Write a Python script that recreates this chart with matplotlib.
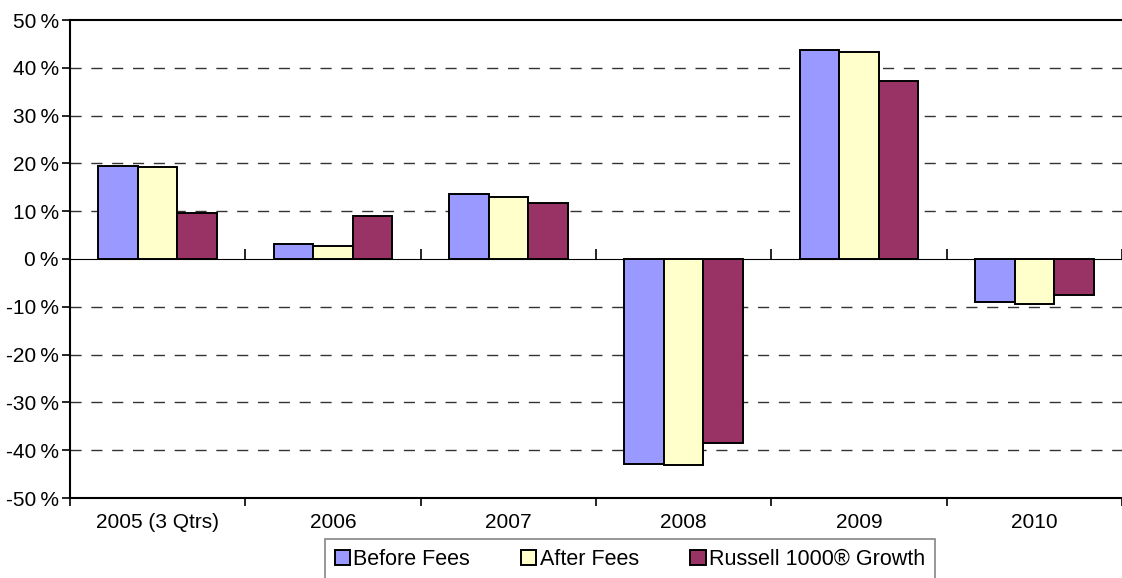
import matplotlib
matplotlib.use("Agg")
import matplotlib.pyplot as plt
import numpy as np

plt.rcParams['font.family'] = ['Liberation Sans', 'DejaVu Sans']

# data (percent returns)
years = ['2005 (3 Qtrs)', '2006', '2007', '2008', '2009', '2010']
before_fees = [19.4, 3.2, 13.6, -42.8, 43.7, -9.0]
after_fees = [19.3, 2.7, 12.9, -43.1, 43.4, -9.4]
russell = [9.7, 9.0, 11.8, -38.4, 37.2, -7.6]
series_names = ['Before Fees', 'After Fees', 'Russell 1000\u00ae Growth']
series_colors = ['#9999FF', '#FFFFCC', '#993366']
y_ticks = list(range(-50, 51, 10))

fig = plt.figure(figsize=(11.22, 5.78), dpi=100)
ax = fig.add_axes([70 / 1122, 80 / 578, 1 - 70 / 1122, 478 / 578])

x = np.arange(len(years))
w = 0.226
for k, (vals, name, col) in enumerate(zip([before_fees, after_fees, russell], series_names, series_colors)):
    ax.bar(x + (k - 1) * w, vals, w, color=col, edgecolor='black', linewidth=1.4,
           label=name, zorder=3)

ax.set_xlim(-0.5, len(years) - 0.5)
ax.set_ylim(-50, 50)
ax.set_yticks(y_ticks)
ax.set_yticklabels(['%d\u2009%%' % v for v in y_ticks], fontsize=15)
ax.tick_params(axis='y', direction='out', length=6, width=1.2, pad=2)

# category labels in the middle, tick marks on the boundaries
ax.set_xticks(x)
ax.set_xticklabels(years, fontsize=15)
ax.set_xticks(np.arange(len(years) + 1) - 0.5, minor=True)
ax.tick_params(axis='x', which='major', length=0, pad=11)
ax.tick_params(axis='x', which='minor', direction='out', length=6, width=1.2)

# zero line with its own ticks
zero_axis = ax.secondary_xaxis(0.5)
zero_axis.set_xticks(np.arange(len(years) + 1) - 0.5)
zero_axis.set_xticklabels([''] * (len(years) + 1))
zero_axis.tick_params(direction='out', length=7, width=1.2)
zero_axis.spines['bottom'].set_linewidth(1.2)

for v in y_ticks[1:-1]:
    if v != 0:
        ax.axhline(v, color='#333333', linewidth=1, linestyle=(0, (8, 7)), zorder=1)

for s in ['left', 'bottom', 'top']:
    ax.spines[s].set_linewidth(1.5)
ax.spines['right'].set_visible(False)

leg = fig.legend(loc='upper left', bbox_to_anchor=(325 / 1122, 1 - 539 / 578),
                 ncol=3, fontsize=15.5, frameon=True, fancybox=False,
                 handlelength=0.7, handleheight=0.7, handletextpad=0.15,
                 columnspacing=2.4, borderpad=0.45, borderaxespad=0)
leg.get_frame().set_edgecolor('#666666')
leg.get_frame().set_linewidth(1.2)

fig.savefig('out.png', dpi=100)
